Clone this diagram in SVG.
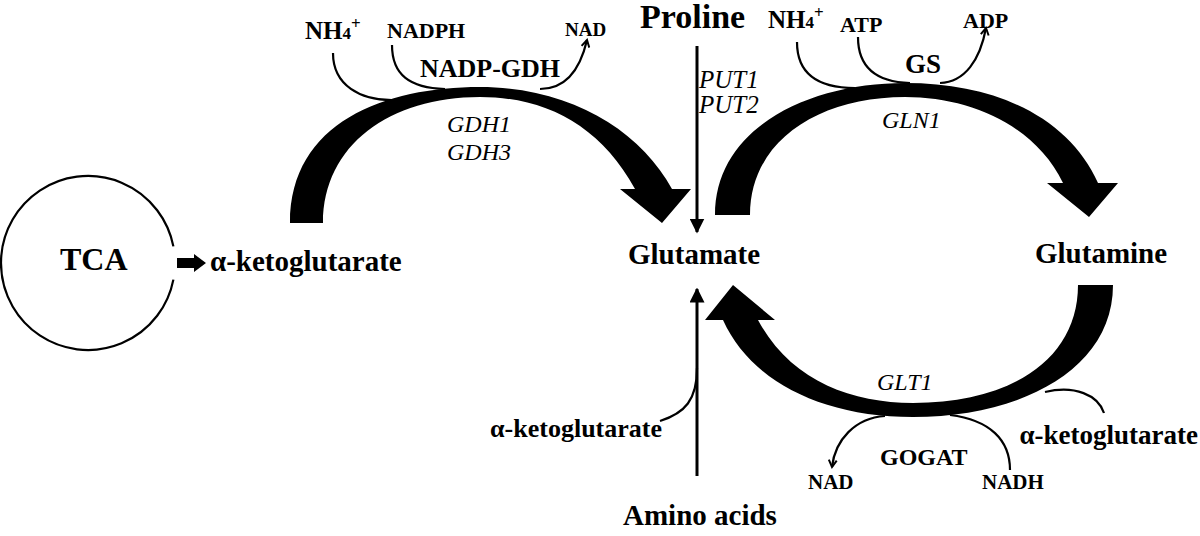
<svg xmlns="http://www.w3.org/2000/svg" width="1200" height="536" viewBox="0 0 1200 536">
<style>
text{font-family:"Liberation Serif","Times New Roman",serif;fill:#000}
.b{font-weight:bold}
.i{font-style:italic}
.thin{fill:none;stroke:#000;stroke-width:2.2}
.vline{fill:none;stroke:#000;stroke-width:3}
.big{fill:#000;stroke:none}
</style>
<defs>
<marker id="tri" viewBox="0 0 10 10" refX="9" refY="5" markerWidth="5" markerHeight="5" orient="auto" markerUnits="strokeWidth">
<path d="M0,0 L10,5 L0,10 Z" fill="#000"/>
</marker>
<marker id="chev" viewBox="0 0 10 10" refX="8" refY="5" markerWidth="4.5" markerHeight="4.5" orient="auto" markerUnits="strokeWidth">
<path d="M1,1 L8,5 L1,9" fill="none" stroke="#000" stroke-width="2"/>
</marker>
</defs>
<rect width="1200" height="536" fill="#fff"/>

<g id="connectors">
<!-- GDH big arrow -->
<path class="big" d="M 290 223 C 290 122, 385 87, 480 87 C 570 87, 640 130, 672 189 L 691 189 L 662 223 L 620 189 L 635 189 C 600 125, 545 97, 480 97 C 390 97, 323 145, 323 223 Z"/>
<!-- GS big arrow -->
<path class="big" d="M 715 215 C 715 127, 810 83, 905 83 C 1000 83, 1070 120, 1098 183 L 1118 183 L 1089 217 L 1047 183 L 1063 183 C 1035 125, 970 97, 905 97 C 820 97, 750 140, 750 215 Z"/>
<!-- GOGAT big arrow -->
<path class="big" d="M 1078 285 L 1113 285 C 1113 370, 1020 417, 913 417 C 820 417, 750 380, 723 320 L 705 320 L 733 285 L 775 320 L 758 320 C 790 380, 850 403, 913 403 C 1010 403, 1078 360, 1078 285 Z"/>
<!-- TCA fat arrow -->
<path class="big" d="M 177 258 L 194 258 L 194 254 L 206 263 L 194 272 L 194 268 L 177 268 Z"/>
<!-- Proline -> Glutamate -->
<path class="vline" d="M 697 46 L 697 232" marker-end="url(#tri)"/>
<!-- Amino acids -> Glutamate -->
<path class="vline" d="M 697 476 L 697 289" marker-end="url(#tri)"/>
<path class="thin" d="M 660 421 C 685 413, 697 400, 697 368"/>
<!-- GDH cofactors -->
<path class="thin" d="M 333 53 C 333 85, 360 101, 395 100"/>
<path class="thin" d="M 392 45 C 392 75, 410 88, 445 89"/>
<path class="thin" d="M 540 89 C 565 89, 580 70, 587 40" marker-end="url(#chev)"/>
<!-- GS cofactors -->
<path class="thin" d="M 797 42 C 797 75, 820 88, 855 88"/>
<path class="thin" d="M 858 37 C 858 67, 875 82, 910 83"/>
<path class="thin" d="M 940 83 C 965 82, 980 60, 986 28" marker-end="url(#chev)"/>
<!-- GOGAT cofactors -->
<path class="thin" d="M 885 416 C 855 418, 835 440, 832 467" marker-end="url(#chev)"/>
<path class="thin" d="M 950 415 C 990 420, 1010 440, 1010 470"/>
<path class="thin" d="M 1045 392 C 1075 385, 1098 395, 1104 413"/>
</g>

<g id="tca">
<path d="M 173.4 279.6 A 87 87 0 1 1 173.4 246.4" fill="none" stroke="#000" stroke-width="2.2"/>
<text class="b" x="60" y="270" font-size="32">TCA</text>
</g>
<g id="akg-left"><text class="b" x="210" y="271" font-size="29">α-ketoglutarate</text></g>
<g id="glutamate"><text class="b" x="628" y="264" font-size="29">Glutamate</text></g>
<g id="glutamine"><text class="b" x="1035" y="263" font-size="29">Glutamine</text></g>
<g id="proline"><text class="b" x="640" y="28" font-size="34">Proline</text></g>
<g id="amino-acids"><text class="b" x="623" y="525" font-size="29">Amino acids</text></g>
<g id="akg-center"><text class="b" x="662" y="437" font-size="26" text-anchor="end">α-ketoglutarate</text></g>

<g id="gdh-labels">
<text class="b" x="305" y="39" font-size="25">NH<tspan font-size="17">4</tspan><tspan font-size="17" dy="-10">+</tspan></text>
<text class="b" x="387" y="38" font-size="22">NADPH</text>
<text class="b" x="565" y="36" font-size="19">NAD</text>
<text class="b" x="420" y="77" font-size="26">NADP-GDH</text>
<text class="i" x="447" y="132" font-size="24">GDH1</text>
<text class="i" x="447" y="160" font-size="24">GDH3</text>
</g>
<g id="put-labels">
<text class="i" x="699" y="88" font-size="25">PUT1</text>
<text class="i" x="699" y="113" font-size="25">PUT2</text>
</g>
<g id="gs-labels">
<text class="b" x="768" y="28" font-size="25">NH<tspan font-size="17">4</tspan><tspan font-size="17" dy="-10">+</tspan></text>
<text class="b" x="840" y="32" font-size="22">ATP</text>
<text class="b" x="963" y="28" font-size="22">ADP</text>
<text class="b" x="905" y="73" font-size="27">GS</text>
<text class="i" x="882" y="128" font-size="24">GLN1</text>
</g>
<g id="gogat-labels">
<text class="i" x="877" y="390" font-size="24">GLT1</text>
<text class="b" x="880" y="465" font-size="24">GOGAT</text>
<text class="b" x="808" y="489" font-size="21">NAD</text>
<text class="b" x="982" y="489" font-size="21">NADH</text>
<text class="b" x="1198" y="444" font-size="27" text-anchor="end">α-ketoglutarate</text>
</g>
</svg>
